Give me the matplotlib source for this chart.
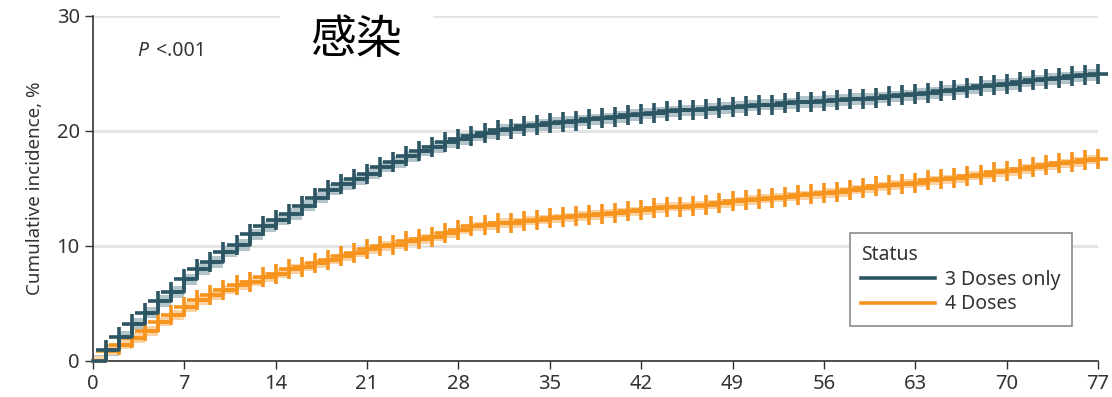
import matplotlib
matplotlib.use("Agg")
import matplotlib.pyplot as plt

# Days since start of follow-up
days = list(range(78))

# Cumulative incidence (%), one value per day
three_doses = [0, 0.96, 2.1, 3.2, 4.2, 5.2, 6.0, 7.1, 8.0, 8.6,
               9.5, 10.1, 11.0, 11.7, 12.3, 12.8, 13.5, 14.2, 14.9, 15.4,
               15.8, 16.3, 16.9, 17.3, 17.8, 18.3, 18.6, 19.0, 19.3, 19.6,
               19.8, 20.1, 20.2, 20.4, 20.5, 20.7, 20.8, 20.9, 21.0, 21.1,
               21.2, 21.4, 21.5, 21.6, 21.7, 21.8, 21.8, 21.9, 22.0, 22.1,
               22.2, 22.3, 22.3, 22.4, 22.5, 22.5, 22.6, 22.7, 22.8, 22.8,
               22.9, 23.0, 23.1, 23.2, 23.3, 23.5, 23.6, 23.7, 23.9, 24.0,
               24.1, 24.3, 24.4, 24.5, 24.6, 24.75, 24.85, 24.95]
four_doses = [0, 0.9, 1.4, 2.0, 2.6, 3.4, 4.0, 4.7, 5.3, 5.7,
              6.2, 6.6, 6.9, 7.3, 7.6, 8.0, 8.2, 8.5, 8.8, 9.1,
              9.4, 9.7, 10.0, 10.1, 10.4, 10.6, 10.8, 11.1, 11.4, 11.7,
              11.8, 12.0, 12.0, 12.2, 12.3, 12.4, 12.5, 12.6, 12.7, 12.8,
              12.9, 13.0, 13.1, 13.3, 13.4, 13.4, 13.5, 13.6, 13.7, 13.9,
              14.0, 14.1, 14.2, 14.3, 14.4, 14.5, 14.6, 14.7, 14.9, 15.0,
              15.2, 15.3, 15.4, 15.5, 15.7, 15.8, 15.9, 16.1, 16.2, 16.4,
              16.5, 16.7, 16.9, 17.0, 17.2, 17.3, 17.5, 17.6]

# Approximate half-width of the confidence bands (%)
three_ci = 0.5
four_ci = 0.4

x_ticks = [0, 7, 14, 21, 28, 35, 42, 49, 56, 63, 70, 77]
y_ticks = [0, 10, 20, 30]

dark = "#2c5664"
orange = "#f7941e"
font = ["Noto Sans", "DejaVu Sans"]
plt.rcParams["font.family"] = font

fig = plt.figure(figsize=(11.12, 3.97), dpi=100)
ax = fig.add_axes([0.0836, 0.0907, 0.9038, 0.869])

# Confidence bands
ax.fill_between(days, [v - three_ci for v in three_doses], [v + three_ci for v in three_doses],
                step="post", color="#b3c5ca", linewidth=0, zorder=2)
ax.fill_between(days, [max(v - four_ci, 0) for v in four_doses], [v + four_ci for v in four_doses],
                step="post", color="#fbd2a3", linewidth=0, zorder=2)

# Step curves with censor marks
ax.step(days, four_doses, where="post", color=orange, linewidth=2.6, zorder=3, clip_on=False)
ax.plot(days[1:], four_doses[1:], linestyle="none", marker="+", markersize=15,
        markeredgewidth=2.6, color=orange, zorder=3, clip_on=False)
ax.step(days, three_doses, where="post", color=dark, linewidth=2.6, zorder=4, clip_on=False)
ax.plot(days[1:], three_doses[1:], linestyle="none", marker="+", markersize=15,
        markeredgewidth=2.6, color=dark, zorder=4, clip_on=False)

ax.set_xlim(0, 77)
ax.set_ylim(0, 30)
ax.set_xticks(x_ticks)
ax.set_yticks(y_ticks)
ax.tick_params(axis="both", labelsize=14.5, length=6, width=1, color="#333333",
               labelcolor="#333333", direction="out")
ax.grid(axis="y", color="#e2e2e2", linewidth=2)
ax.set_axisbelow(True)
for side in ["top", "right"]:
    ax.spines[side].set_visible(False)
for side in ["left", "bottom"]:
    ax.spines[side].set_color("#333333")
    ax.spines[side].set_linewidth(1.2)

ax.set_ylabel("Cumulative incidence, %", fontsize=13.5, color="#333333", labelpad=9)

ax.text(0.044, 0.898, "P", transform=ax.transAxes, fontsize=14, style="italic",
        color="#333333", ha="left", va="center")
ax.text(0.0625, 0.898, "<.001", transform=ax.transAxes, fontsize=14,
        color="#333333", ha="left", va="center")

ax.text(0.262, 0.93, "感染", transform=ax.transAxes, fontsize=33,
        family=["Noto Sans CJK SC", "DejaVu Sans"], fontweight="light", color="black",
        ha="center", va="center", zorder=5,
        bbox=dict(facecolor="white", edgecolor="none", pad=22))

handles = [plt.Line2D([], [], color=dark, linewidth=2.6),
           plt.Line2D([], [], color=orange, linewidth=2.6)]
leg = ax.legend(handles, ["3 Doses only", "4 Doses"], title="Status",
                loc="upper left", bbox_to_anchor=(0.753, 0.371), borderaxespad=0,
                fontsize=14, title_fontsize=14, fancybox=False, framealpha=1,
                edgecolor="#8a8a8a", handlelength=3.8, handletextpad=0.5,
                alignment="left", borderpad=0.6, labelspacing=0.25)
leg.get_frame().set_linewidth(1.2)
for t in leg.get_texts():
    t.set_color("#333333")
leg.get_title().set_color("#333333")

fig.savefig("out.png", dpi=100)
